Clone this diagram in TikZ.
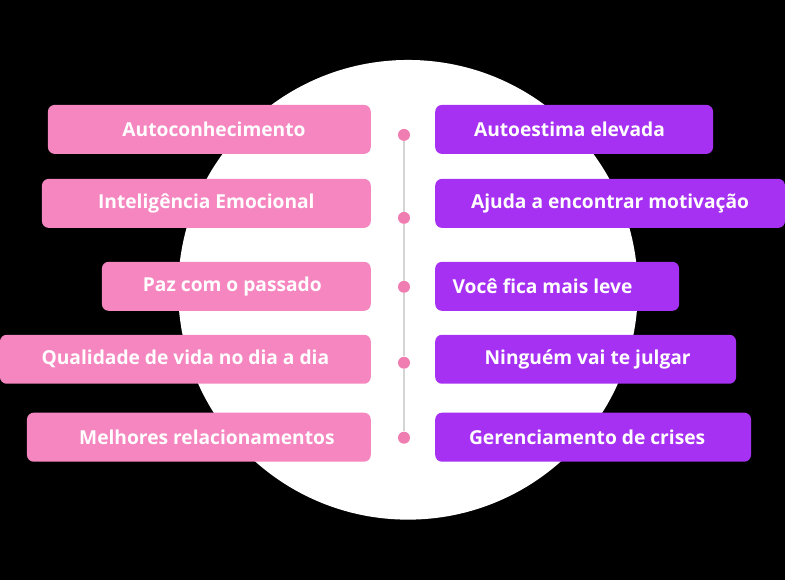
\documentclass[tikz,border=0pt]{standalone}
\usepackage{fontspec}
\setmainfont{Open Sans}
\usepackage{xcolor}
\definecolor{cardPink}{HTML}{F586C0}
\definecolor{cardPurple}{HTML}{A631F2}
\definecolor{dotPink}{HTML}{F07DB2}
\definecolor{lineGray}{HTML}{D4D4D4}
\usetikzlibrary{positioning}

\begin{document}
\begin{tikzpicture}[
    x=0.75pt, y=-0.75pt,
    card/.style      ={rectangle, rounded corners=5pt, minimum height=36.75pt,
                       inner sep=0pt, text=white,
                       font=\fontsize{14.4}{17}\selectfont\bfseries},
    pinkcard/.style  ={card, fill=cardPink, anchor=east},
    purplecard/.style={card, fill=cardPurple, anchor=west},
    dot/.style       ={circle, fill=dotPink, minimum size=9pt, inner sep=0pt},
    timeline/.style  ={draw=lineGray, line width=0.8pt}
]
% background and disc
\fill[black] (0,0) rectangle (785,580);
\node[circle, fill=white, minimum size=345pt, inner sep=0pt] (disc) at (408,290) {};

% left column
\node[pinkcard, minimum width=242.25pt] (autocon)  at (371,129.5) {\hspace*{7pt}Autoconhecimento};
\node[pinkcard, minimum width=246.75pt] (intelig)  at (371,203.5) {Inteligência Emocional};
\node[pinkcard, minimum width=201.75pt] (paz)      at (371,286.5) {Paz com o passado\hspace*{6pt}};
\node[pinkcard, minimum width=278.25pt] (qualid)   at (371,359.5) {Qualidade de vida no dia a dia};
\node[pinkcard, minimum width=258pt]    (melhores) at (371,437.5) {\hspace*{12pt}Melhores relacionamentos};

% right column
\node[purplecard, minimum width=208.5pt] (autoest) at (435,129.5) {Autoestima elevada\hspace*{7pt}};
\node[purplecard, minimum width=262.5pt] (ajuda)   at (435,203.5) {Ajuda a encontrar motivação};
\node[purplecard, minimum width=183pt]   (leve)    at (435,286.5) {Você fica mais leve\hspace*{22pt}};
\node[purplecard, minimum width=225.75pt](ninguem) at (435,359.5) {\hspace*{3pt}Ninguém vai te julgar};
\node[purplecard, minimum width=237pt]   (gerenc)  at (435,437.5) {Gerenciamento de crises\hspace*{9pt}};

% timeline
\node[dot] (d1) at (404,135) {};
\node[dot] (d2) at (404,218) {};
\node[dot] (d3) at (404,287) {};
\node[dot] (d4) at (404,363) {};
\node[dot] (d5) at (404,438) {};
\foreach \a/\b in {d1/d2, d2/d3, d3/d4, d4/d5}
    \draw[timeline] (\a) -- (\b);
\end{tikzpicture}
\end{document}
